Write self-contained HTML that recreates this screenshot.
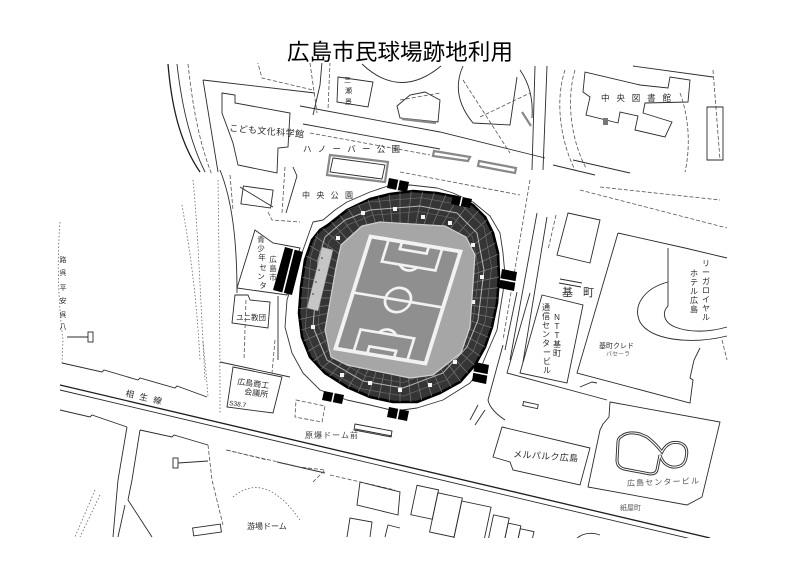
<!DOCTYPE html>
<html><head><meta charset="utf-8">
<style>
html,body{margin:0;padding:0;background:#fff;}
svg{display:block;}
text{font-family:"Liberation Sans","Noto Sans CJK JP",sans-serif;fill:#2a2a2a;}
.s{fill:none;stroke:#2b2b2b;stroke-width:0.9;}
.t{fill:none;stroke:#1e1e1e;stroke-width:1.3;}
.d{fill:none;stroke:#555;stroke-width:0.8;stroke-dasharray:4 2;}
.f{fill:none;stroke:#666;stroke-width:0.8;stroke-dasharray:1.5 2;}
.h{fill:none;stroke:#888;stroke-width:2.2;}
.sm{font-size:8px;}
</style></head><body>
<svg width="800" height="570" viewBox="0 0 800 570" xmlns="http://www.w3.org/2000/svg">
<defs>
<clipPath id="map"><rect x="0" y="63" width="800" height="475"/></clipPath>
<clipPath id="stands"><polygon points="328,225 347,210 370,199 390,194 413,191 437,193 457,197 473,205 485,217 493,233 498,253 499,277 497,303 492,327 485,347 475,365 460,382 440,393 417,402 393,402 370,397 347,387 325,373 310,357 302,337 299,313 301,287 305,260 312,240 320,230"/></clipPath>
<line id="rl" x1="400" y1="298" x2="400" y2="140" stroke="#7a7a7a" stroke-width="0.7"/>
<polyline id="ai" points="325,237 345,220 370,210 420,206 457,213 477,233 484,270 478,320 467,347 443,373 403,388 363,381 327,360 313,327 316,290 318,260 325,237" fill="none"/>
</defs>
<rect width="800" height="570" fill="#fff"/>
<text x="400" y="60" font-size="22.5" text-anchor="middle" textLength="226" style="fill:#000">広島市民球場跡地利用</text>

<g clip-path="url(#map)">
<!-- left river -->
<path class="f" d="M60,222 C57,260 58,300 63,340 L62,363"/>
<g style="font-size:7px" text-anchor="middle">
<text x="63" y="262">路</text><text x="63" y="275">呉</text><text x="63" y="290">平</text>
<text x="63" y="303">安</text><text x="63" y="317">呉</text><text x="63" y="329">八</text>
</g>
<path class="s" d="M67,337 L88,337"/><rect x="88" y="332" width="5" height="10" class="s"/>

<!-- left roads -->
<path class="t" d="M168,64 C171,100 178,140 200,172"/>
<path class="s" d="M177,64 C181,100 189,140 205,172"/>
<path class="d" d="M188,64 C192,100 198,140 212,175"/>
<path class="s" d="M203,80 L218,172"/>
<path class="s" d="M203,80 L315,93"/>
<path class="f" d="M193,180 C198,230 200,290 205,380"/>
<path class="f" d="M218,180 C219,250 220,330 220,413"/>
<path class="f" d="M182,205 C188,240 196,285 200,360"/>
<path class="s" d="M220,170 C232,200 237,240 237,293"/>
<path class="d" d="M230,175 L233,210"/>
<!-- children museum -->
<polygon class="s" points="222,93 235,95 235,103 290,113 288,147 278,148 277,173 238,165 233,143 222,113"/>
<text x="229" y="131" font-size="9" textLength="75" transform="rotate(5 229 131)">こども文化科学館</text>
<path class="d" d="M257,60 L262,78 L313,90"/>
<path class="s" d="M322,62 L320,85 L313,115"/>
<path class="d" d="M310,63 L317,113"/>
<path class="d" d="M330,62 L328,110"/>
<!-- 三瀬 box -->
<polygon class="s" points="338,77 373,82 368,107 337,102"/>
<g style="font-size:7px"><text x="344" y="82">三</text><text x="345" y="93">瀬</text><text x="345" y="104">景</text></g>
<!-- top arcs -->
<path class="s" d="M362,64 Q400,100 441,66"/>
<path class="s" d="M463,66 Q450,95 473,123 L510,125 L517,77"/>
<path class="d" d="M463,80 L510,153"/>
<path class="d" d="M480,117 L530,93"/>
<polygon class="s" points="397,106 410,95 425,92 440,100 438,122 400,118"/>
<path class="h" d="M402,119 L436,123"/>
<path class="h" d="M522,112 L531,126"/>
<path class="s" d="M520,70 Q534,90 532,118"/>
<!-- top road -->
<path class="s" d="M300,106 L440,132 L545,158"/>
<path class="s" d="M303,124 L440,149"/>
<path class="d" d="M400,100 L440,93"/>
<path class="d" d="M310,133 L430,155"/>
<text x="303" y="152" font-size="8.5" textLength="97">ハノーバー公園</text>
<polygon class="h" points="330,155 388,162 385,182 327,175"/>
<polygon class="s" points="333,158 385,165 382,179 330,172"/>
<polygon class="h" points="434,151 470,157 468,161 433,156"/>
<polygon class="h" points="479,161 516,168 515,173 478,166"/>
<path class="d" d="M400,172 L520,195"/>
<text x="302" y="198" font-size="8" textLength="51">中央公園</text>
<path class="d" d="M285,167 L282,213"/>
<path class="s" d="M293,167 L297,176 L286,213"/>
<rect class="s" x="242" y="188" width="30" height="18" transform="rotate(8 257 197)"/>
<path class="d" d="M268,212 L272,220 L300,222"/>
<!-- library area -->
<path class="s" d="M535,66 L532,170"/><path class="s" d="M547,66 L543,170"/>
<path class="d" d="M565,70 C555,100 560,140 575,170"/>
<path class="d" d="M575,70 C566,100 571,140 586,168"/>
<polygon class="s" points="585,72 583,92 590,97 586,115 618,123 620,112 638,116 635,130 665,137 672,122 643,113 645,103 688,102 690,80 670,77 668,88 640,85"/>
<path class="s" d="M633,66 L713,77"/>
<rect x="603" y="118" width="5" height="7" fill="#777"/>
<text x="601" y="101" font-size="8.5" textLength="70">中央図書館</text>
<path class="d" d="M680,93 C690,120 690,150 685,172"/>
<path class="d" d="M713,70 L720,160"/>
<polygon class="s" points="707,107 723,107 723,160 707,160"/>
<path class="s" d="M573,160 L630,173"/>
<path class="s" d="M553,165 L595,175"/>
<path class="d" d="M600,187 L720,200"/>
<path class="d" d="M580,190 L727,228"/>
<path class="s" d="M618,233 L685,248 L727,258"/>
<!-- middle right -->
<path class="s" d="M537,213 L510,360"/>
<path class="s" d="M547,217 L523,362"/>
<path class="d" d="M530,180 L503,340"/>
<path class="d" d="M556,215 L548,250"/>
<path class="s" d="M517,292 L505,350"/>
<polygon class="s" points="568,213 600,220 590,263 557,255"/>
<path class="s" d="M560,279 L582,283"/><path class="s" d="M559,283 L581,287"/>
<text x="562" y="296" font-size="11" textLength="32">基町</text>
<polygon class="s" points="542,295 583,305 567,383 520,373"/>
<path class="s" d="M530,293 L507,373 L607,400"/>
<g style="font-size:8px" text-anchor="middle">
<text x="546" y="310">通</text><text x="546" y="319">信</text><text x="546" y="328">セ</text><text x="546" y="337">ン</text><text x="546" y="346">タ</text><text x="547" y="355">ー</text><text x="547" y="364">ビ</text><text x="547" y="373">ル</text>
<text x="557" y="320">N</text><text x="557" y="329">T</text><text x="557" y="338">T</text><text x="557" y="347">基</text><text x="557" y="356">町</text>
</g>
<path class="s" d="M618,233 L577,373 L690,403 L693,380 L690,378 L694,360 L700,348"/>
<path class="s" d="M668,248 L668,282"/>
<path class="s" d="M668,282 C645,288 632,305 640,322 C650,340 690,345 727,336"/>
<path class="s" d="M668,306 C662,312 663,322 675,327 C690,333 710,332 727,327"/>
<path class="s" d="M668,282 L668,306"/>
<path class="d" d="M722,340 L727,360"/>
<g style="font-size:8px" text-anchor="middle">
<text x="706" y="266">リ</text><text x="706" y="275">ー</text><text x="706" y="284">ガ</text><text x="706" y="293">ロ</text><text x="706" y="302">イ</text><text x="706" y="311">ヤ</text><text x="706" y="320">ル</text>
<text x="694" y="276">ホ</text><text x="694" y="285">テ</text><text x="694" y="294">ル</text><text x="694" y="303">広</text><text x="694" y="312">島</text>
</g>
<text x="599" y="348" style="font-size:7px">基町クレド</text>
<text x="606" y="356" style="font-size:6px;fill:#666">パセーラ</text>
<path class="s" d="M580,387 L592,382 L597,383"/>
<!-- lower right -->
<polygon class="s" points="610,402 720,422 702,497 687,505 588,487 600,430 603,424 609,417"/>
<path d="M622,436 Q628,431 640,434 L647,437 Q655,443 662,452 Q668,440 680,443 Q689,446 686,458 Q684,468 672,467 Q663,465 660,455 L657,470 Q656,474 650,474 L624,469 Q617,467 617,460 L618,442 Q618,438 622,436 Z" fill="none" stroke="#333" stroke-width="3"/>
<path d="M622,436 Q628,431 640,434 L647,437 Q655,443 662,452 Q668,440 680,443 Q689,446 686,458 Q684,468 672,467 Q663,465 660,455 L657,470 Q656,474 650,474 L624,469 Q617,467 617,460 L618,442 Q618,438 622,436 Z" fill="none" stroke="#fff" stroke-width="1.1"/>
<text x="627" y="486" font-size="8" textLength="72" transform="rotate(-2 627 486)" style="fill:#555">広島センタービル</text>
<text x="620" y="510" style="font-size:7px;fill:#555">紙屋町</text>
<polygon class="s" points="502,427 590,448 580,485 513,470 510,462 493,457"/>
<text x="513" y="457" font-size="9" textLength="65" transform="rotate(4 513 457)">メルパルク広島</text>
<rect class="s" x="523" y="403" width="15" height="4" transform="rotate(12 530 405)"/>
<path class="s" d="M503,345 L488,400 Q490,410 505,420"/>
<path class="s" d="M470,420 L478,405"/><path class="s" d="M475,425 L485,410"/>
<!-- houses -->
<g class="s" transform="rotate(12 470 515)">
<rect x="412" y="497" width="22" height="30"/><rect x="434" y="500" width="25" height="40"/>
<rect x="459" y="503" width="30" height="40"/><rect x="493" y="510" width="16" height="25"/>
<rect x="509" y="515" width="13" height="20"/><rect x="522" y="518" width="14" height="20"/>
</g>
<path class="s" d="M575,540 Q585,530 600,535"/>
<!-- main road -->
<path class="t" d="M60,385 L710,538"/>
<path class="s" d="M60,390 L700,541"/>
<path class="s" d="M62,363 L102,372 L104,370 L138,380 L140,378 L175,388 L177,386 L207,397"/>
<path class="s" d="M60,410 L90,417 L92,415 L127,427"/>
<path class="s" d="M140,430 L172,437 L174,435 L208,445"/>
<path class="d" d="M227,450 L267,460"/><path class="s" d="M277,462 L325,473"/>
<path class="d" d="M330,475 L395,490"/>
<text x="125" y="396" font-size="8.5" textLength="37" transform="rotate(13 125 396)">相生線</text>
<path class="s" d="M127,427 L118,480 L113,537"/>
<path class="s" d="M140,430 L132,480 L128,500"/>
<path class="f" d="M100,495 L80,537"/><path class="f" d="M95,490 L75,537"/>
<path class="s" d="M128,500 L152,537"/><path class="s" d="M125,505 L118,537"/>
<path class="s" d="M178,463 L208,461"/><rect class="s" x="173" y="458" width="5" height="10"/>
<path class="d" d="M208,445 L212,480 L223,525"/>
<path class="f" d="M233,497 Q265,470 300,520"/>
<rect class="s" x="193" y="526" width="28" height="8" transform="rotate(-8 207 530)"/>
<path class="d" d="M226,450 L300,467 L325,470 L312,483"/>
<text x="247" y="529" style="font-size:8px">游場ドーム</text>
<polygon class="s" points="360,482 400,492 398,515 357,505"/>
<path class="s" d="M347,537 L350,518 L372,522 L370,537"/>
<path class="s" d="M385,537 L388,525 L400,528"/>
<!-- 商工会議所 etc -->
<path class="f" d="M203,342 Q206,370 208,397"/>
<path class="s" d="M220,362 L290,377"/>
<path class="d" d="M275,340 L272,373"/>
<polygon class="s" points="233,367 282,377 273,413 227,407"/>
<text x="237" y="384" font-size="8" transform="rotate(8 237 384)">広島商工</text>
<text x="244" y="394" font-size="8" transform="rotate(8 244 394)">会議所</text>
<text x="229" y="405" style="font-size:6.5px" transform="rotate(8 229 405)">S38.7</text>
<polygon class="d" points="296,400 325,406 322,422 295,417"/>
<polygon class="s" points="355,424 392,431 391,437 354,430"/>
<path class="s" d="M355,429 L392,436"/>
<text x="305" y="438" style="font-size:8px;fill:#444" textLength="53">原爆ドーム前</text>
<!-- left blocks -->
<polygon class="s" points="255,230 273,243 300,248 287,295 237,288"/>
<g style="font-size:7.5px" text-anchor="middle">
<text x="261" y="242">青</text><text x="261" y="251">少</text><text x="262" y="260">年</text><text x="263" y="270">セ</text><text x="261" y="279">ン</text><text x="263" y="288">タ</text>
<text x="273" y="262">広</text><text x="273" y="271">島</text><text x="273" y="280">市</text>
</g>
<polygon class="s" points="235,295 248,295 250,300 270,302 268,328 232,323"/>
<text x="236" y="320" style="font-size:7.5px">ユニ教団</text>
<path class="s" d="M278,296 L278,360"/>
<path class="d" d="M246,300 L244,360"/>
<path class="s" d="M240,187 L273,207"/>

<!-- stadium (screen coords) -->
<polygon points="323,220 335,210 347,202 370,192 388,186 410,185 437,188 453,193 473,202 490,216 500,233 503,253 505,275 503,292 500,310 497,330 487,353 480,370 470,383 443,400 417,408 395,411 370,405 347,400 320,390 303,373 292,353 285,327 287,300 303,250 313,222" fill="#fff" stroke="#333" stroke-width="0.9" stroke-linejoin="round"/>
<polygon points="328,225 347,210 370,199 390,194 413,191 437,193 457,197 473,205 485,217 493,233 498,253 499,277 497,303 492,327 485,347 475,365 460,382 440,393 417,402 393,402 370,397 347,387 325,373 310,357 302,337 299,313 301,287 305,260 312,240 320,230" fill="#353535" stroke="#000" stroke-width="2.6" stroke-linejoin="round"/>
<g clip-path="url(#stands)">
<use href="#rl" transform="rotate(0 400 298)"/><use href="#rl" transform="rotate(6 400 298)"/><use href="#rl" transform="rotate(12 400 298)"/><use href="#rl" transform="rotate(18 400 298)"/><use href="#rl" transform="rotate(24 400 298)"/><use href="#rl" transform="rotate(30 400 298)"/><use href="#rl" transform="rotate(36 400 298)"/><use href="#rl" transform="rotate(42 400 298)"/><use href="#rl" transform="rotate(48 400 298)"/><use href="#rl" transform="rotate(54 400 298)"/><use href="#rl" transform="rotate(60 400 298)"/><use href="#rl" transform="rotate(66 400 298)"/><use href="#rl" transform="rotate(72 400 298)"/><use href="#rl" transform="rotate(78 400 298)"/><use href="#rl" transform="rotate(84 400 298)"/><use href="#rl" transform="rotate(90 400 298)"/><use href="#rl" transform="rotate(96 400 298)"/><use href="#rl" transform="rotate(102 400 298)"/><use href="#rl" transform="rotate(108 400 298)"/><use href="#rl" transform="rotate(114 400 298)"/><use href="#rl" transform="rotate(120 400 298)"/><use href="#rl" transform="rotate(126 400 298)"/><use href="#rl" transform="rotate(132 400 298)"/><use href="#rl" transform="rotate(138 400 298)"/><use href="#rl" transform="rotate(144 400 298)"/><use href="#rl" transform="rotate(150 400 298)"/><use href="#rl" transform="rotate(156 400 298)"/><use href="#rl" transform="rotate(162 400 298)"/><use href="#rl" transform="rotate(168 400 298)"/><use href="#rl" transform="rotate(174 400 298)"/><use href="#rl" transform="rotate(180 400 298)"/><use href="#rl" transform="rotate(186 400 298)"/><use href="#rl" transform="rotate(192 400 298)"/><use href="#rl" transform="rotate(198 400 298)"/><use href="#rl" transform="rotate(204 400 298)"/><use href="#rl" transform="rotate(210 400 298)"/><use href="#rl" transform="rotate(216 400 298)"/><use href="#rl" transform="rotate(222 400 298)"/><use href="#rl" transform="rotate(228 400 298)"/><use href="#rl" transform="rotate(234 400 298)"/><use href="#rl" transform="rotate(240 400 298)"/><use href="#rl" transform="rotate(246 400 298)"/><use href="#rl" transform="rotate(252 400 298)"/><use href="#rl" transform="rotate(258 400 298)"/><use href="#rl" transform="rotate(264 400 298)"/><use href="#rl" transform="rotate(270 400 298)"/><use href="#rl" transform="rotate(276 400 298)"/><use href="#rl" transform="rotate(282 400 298)"/><use href="#rl" transform="rotate(288 400 298)"/><use href="#rl" transform="rotate(294 400 298)"/><use href="#rl" transform="rotate(300 400 298)"/><use href="#rl" transform="rotate(306 400 298)"/><use href="#rl" transform="rotate(312 400 298)"/><use href="#rl" transform="rotate(318 400 298)"/><use href="#rl" transform="rotate(324 400 298)"/><use href="#rl" transform="rotate(330 400 298)"/><use href="#rl" transform="rotate(336 400 298)"/><use href="#rl" transform="rotate(342 400 298)"/><use href="#rl" transform="rotate(348 400 298)"/><use href="#rl" transform="rotate(354 400 298)"/>
<use href="#ai" stroke="#6e6e6e" stroke-width="0.6" transform="translate(400,298) scale(1.09) translate(-400,-298)"/>
<use href="#ai" stroke="#6e6e6e" stroke-width="0.6" transform="translate(400,298) scale(0.94) translate(-400,-298)"/>
</g>
<use href="#ai" stroke="#b5b5b5" stroke-width="1"/>
<polygon points="322,247 333,250 318,311 307,308" fill="#c6c6c6" stroke="#888" stroke-width="0.5"/>
<g fill="#333"><circle cx="322" cy="258" r="0.8"/><circle cx="319" cy="270" r="0.8"/><circle cx="316" cy="282" r="0.8"/><circle cx="313" cy="294" r="0.8"/></g>
<g fill="#f4f4f4">
<rect x="361" y="211" width="4" height="4"/><rect x="393" y="207" width="4" height="4"/><rect x="421" y="215" width="4" height="4"/><rect x="448" y="221" width="4" height="4"/>
<rect x="471" y="243" width="4" height="4"/><rect x="480" y="275" width="4" height="4"/><rect x="471" y="300" width="4" height="4"/><rect x="461" y="333" width="4" height="4"/>
<rect x="453" y="360" width="4" height="4"/><rect x="428" y="383" width="4" height="4"/><rect x="398" y="388" width="4" height="4"/><rect x="368" y="381" width="4" height="4"/>
<rect x="340" y="373" width="4" height="4"/><rect x="311" y="325" width="4" height="4"/><rect x="336" y="236" width="4" height="4"/>
</g>
<polygon points="362,226 380,222 445,226 466,237 475,255 470,327 461,353 433,375 410,378 347,365 331,357 325,330 336,268 341,245" fill="#a6a6a6" stroke="#cfcfcf" stroke-width="1.2" stroke-linejoin="round"/>
<g transform="matrix(0.957,0.160,-0.287,0.918,398,300)">
<rect x="-47" y="-61" width="94" height="122" fill="#8f8f8f" stroke="#f2f2f2" stroke-width="4"/>
<g fill="none" stroke="#f2f2f2" stroke-width="2.8">
<line x1="-47" y1="0" x2="47" y2="0"/>
<circle cx="0" cy="0" r="13"/>
<rect x="-28" y="-61" width="56" height="24"/>
<rect x="-14" y="-61" width="28" height="8"/>
<path d="M-9,-37 A11,11 0 0 0 9,-37"/>
<rect x="-28" y="37" width="56" height="24"/>
<rect x="-14" y="53" width="28" height="8"/>
<path d="M-9,37 A11,11 0 0 1 9,37"/>
</g>
</g>
<!-- gates -->
<g fill="#000">
<polygon points="389,178 409,182 407,192 387,188"/>
<polygon points="453,195 472,199 470,208 451,204"/>
<polygon points="285,247 303,252 292,295 273,290"/>
<polygon points="502,269 517,272 514,291 499,288"/>
<polygon points="475,362 489,365 486,384 472,381"/>
<polygon points="324,391 344,395 342,404 322,400"/>
<polygon points="389,407 409,411 407,421 387,417"/>
</g>
<g stroke="#fff" stroke-width="1.6">
<line x1="399" y1="180" x2="397" y2="190"/>
<line x1="462" y1="197" x2="460" y2="206"/>
<line x1="294" y1="249" x2="283" y2="293"/>
<line x1="500" y1="279" x2="516" y2="282"/>
<line x1="473" y1="372" x2="488" y2="375"/>
<line x1="334" y1="393" x2="332" y2="402"/>
<line x1="399" y1="409" x2="397" y2="419"/>
</g>
</g>
</svg>
</body></html>
